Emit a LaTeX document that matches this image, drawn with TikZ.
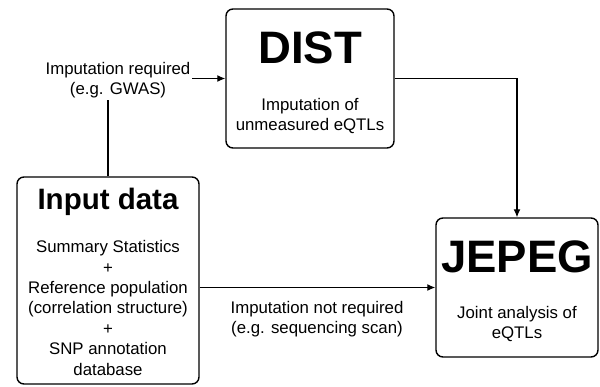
\documentclass[tikz,border=0pt]{standalone}
\usepackage{fontspec}
\setmainfont{Liberation Sans}
\usetikzlibrary{arrows.meta,calc}
\begin{document}
\begin{tikzpicture}[x=1pt,y=-1pt,
  box/.style={draw, line width=1.4pt, rounded corners=7pt, minimum width=#1},
  % multi-line texts: the base anchor sits on the baseline of the last line
  body/.style={align=center, inner sep=0pt, anchor=base,
    font=\fontsize{16.8}{20.4}\selectfont},
  bigtitle/.style={inner sep=0pt, anchor=base,
    font=\fontsize{45.5}{50}\selectfont\bfseries},
  midtitle/.style={inner sep=0pt, anchor=base,
    font=\fontsize{29.5}{34}\selectfont\bfseries},
  link/.style={line width=1.2pt},
  arr/.style={link, -{Latex[length=8pt,width=7pt]}}]
\useasboundingbox (0,0) rectangle (600,387);

% boxes
\node[box=168pt, minimum height=139pt] (dist) at (310,78.5) {};
\node[box=162pt, minimum height=139pt] (jepeg) at (517,287.5) {};
\node[box=182pt, minimum height=207pt] (input) at (108,280.5) {};

% box contents
\node[bigtitle] (distT) at (310,64) {DIST};
\node[body] (distB) at (310,131) {Imputation of\\unmeasured eQTLs};
\node[bigtitle] (jepegT) at (517,273) {JEPEG};
\node[body] (jepegB) at (517,339) {Joint analysis of\\eQTLs};
\node[midtitle] (inputT) at (108,210) {Input data};
\node[body] (inputB) at (108,375) {Summary Statistics\\+\\Reference population\\(correlation structure)\\+\\SNP annotation\\database};

% path labels
\node[body] (lblA) at (118,95) {Imputation required\\(e.g. GWAS)};
\node[body] (lblB) at (317,334) {Imputation not required\\(e.g. sequencing scan)};

% connectors
\coordinate (lblAe) at (192,78.5);
\coordinate (lblAs) at (108,100);
\draw[link] (input.north) -- (lblAs);
\draw[arr] (lblAe) -- (dist.west);
\draw[arr] (dist.east) -| (jepeg.north);
\draw[arr] (input.east |- jepeg.west) -- (jepeg.west);
\end{tikzpicture}
\end{document}
